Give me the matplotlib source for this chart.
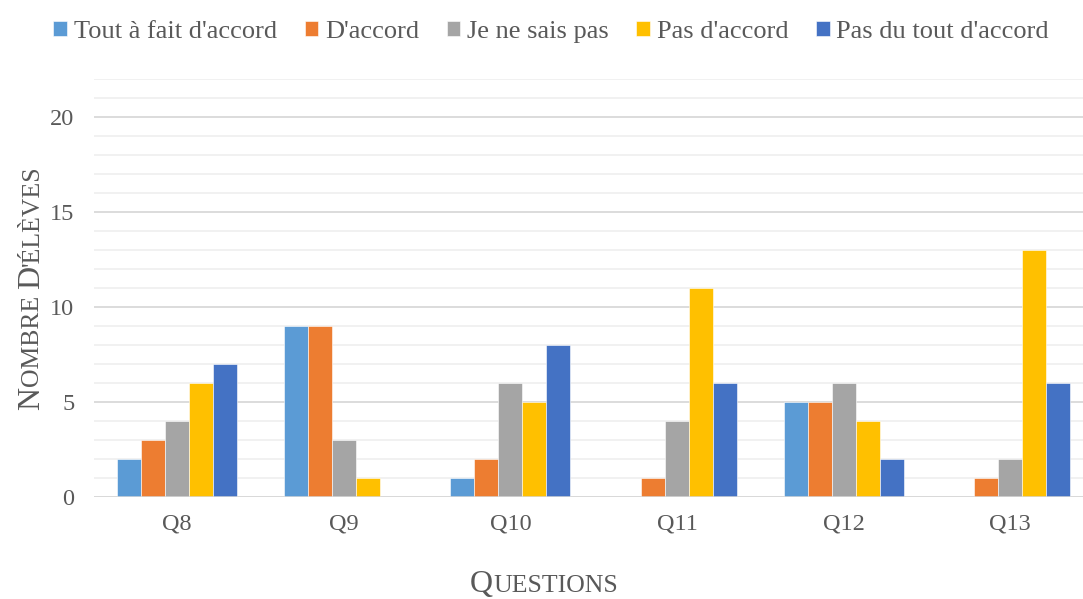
import matplotlib
matplotlib.use('Agg')
import matplotlib.pyplot as plt
import numpy as np

plt.rcParams['font.family'] = ['Liberation Serif', 'DejaVu Serif']

questions = ['Q8', 'Q9', 'Q10', 'Q11', 'Q12', 'Q13']
answers = ["Tout à fait d'accord", "D'accord", "Je ne sais pas", "Pas d'accord", "Pas du tout d'accord"]
tout_accord = [2, 9, 1, 0, 5, 0]
accord = [3, 9, 2, 1, 5, 1]
ne_sais_pas = [4, 3, 6, 4, 6, 2]
pas_accord = [6, 1, 5, 11, 4, 13]
pas_du_tout = [7, 0, 8, 6, 2, 6]
series = [tout_accord, accord, ne_sais_pas, pas_accord, pas_du_tout]
colors = ['#5B9BD5', '#ED7D31', '#A5A5A5', '#FFC000', '#4472C4']

W, H = 1083, 599
fig = plt.figure(figsize=(W / 100, H / 100), dpi=100)
ax = fig.add_axes([93.7 / W, 102 / H, 1000 / W, 418 / H])

x = np.arange(len(questions))
w = 0.144
for i, (vals, c, lab) in enumerate(zip(series, colors, answers)):
    ax.bar(x + (i - 2) * w, vals, w, color=c, label=lab, edgecolor='white', linewidth=0.4)

ax.set_xlim(-0.5, 5.5)
ax.set_ylim(0, 22)
ax.set_yticks([0, 5, 10, 15, 20])
ax.set_yticks(range(0, 23), minor=True)
ax.set_axisbelow(True)
ax.grid(which='minor', axis='y', color='#f0f0f0', lw=1.3)
ax.grid(which='major', axis='y', color='#d9d9d9', lw=1.3)
ax.axhline(0, color='#d9d9d9', lw=1.8, zorder=1)
for s in ax.spines.values():
    s.set_visible(False)
ax.set_xticks(x)
ax.set_xticklabels(questions)
ax.tick_params(which='both', length=0, labelsize=17.5, colors='#595959')
ax.tick_params(axis='y', pad=14)
ax.tick_params(axis='x', pad=12)

fig.legend(loc='upper center', bbox_to_anchor=(0.509, 1.005), ncol=5, frameon=False,
           fontsize=19, handlelength=0.52, handleheight=0.52, handletextpad=0.25,
           columnspacing=1.05, labelcolor='#595959')

# small caps labels built from pieces
renderer = fig.canvas.get_renderer()

def small_caps(parts, x0, y0, vertical):
    x, y = x0, y0
    for txt, size in parts:
        t = fig.text(x, y, txt, fontsize=size, color='#595959',
                     ha='left', va='baseline',
                     rotation=90 if vertical else 0, rotation_mode='anchor')
        bb = t.get_window_extent(renderer)
        if vertical:
            y += bb.height / H
        else:
            x += bb.width / W

small_caps([('Q', 23), ('UESTIONS', 18.5)], 470 / W, 7 / H, False)
small_caps([('N', 23), ('OMBRE ', 18.5), ('D', 23), ("'ÉLÈVES", 18.5)], 39 / W, (H - 410) / H, True)

fig.savefig('out.png', dpi=100)
